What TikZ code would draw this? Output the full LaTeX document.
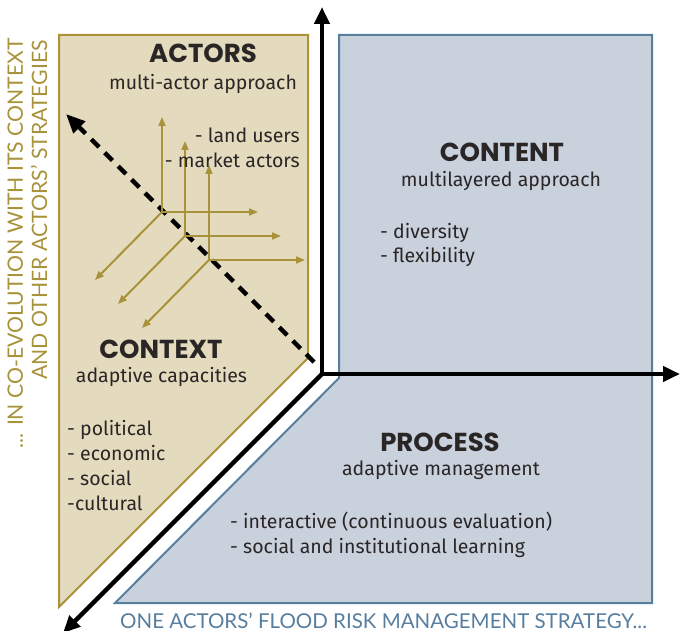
\documentclass[tikz,border=0pt]{standalone}
\usepackage{fontspec}
\setmainfont{Fira Sans}
\newfontfamily\capfont{Lato}
\newfontfamily\headfont{Poppins}
\usetikzlibrary{arrows.meta}
\definecolor{gold}{HTML}{A8923A}
\definecolor{beige}{HTML}{E4DBBE}
\definecolor{bluefill}{HTML}{C9D1DD}
\definecolor{blueedge}{HTML}{587E9F}
\definecolor{ink}{HTML}{2A2626}
\begin{document}
\begin{tikzpicture}[x=1pt,y=-1pt,
  head/.style={inner sep=0pt, anchor=base, text=ink, font=\headfont\fontsize{26}{30}\selectfont\bfseries},
  sub/.style={inner sep=0pt, anchor=base, text=ink, font=\fontsize{19.5}{23}\selectfont},
  item/.style={inner sep=0pt, anchor=base west, text=ink, font=\fontsize{19.5}{23}\selectfont},
  itemr/.style={inner sep=0pt, anchor=base east, text=ink, font=\fontsize{19.5}{23}\selectfont},
  side/.style={inner sep=0pt, text=gold, font=\capfont\fontsize{21.2}{24}\selectfont},
  axis/.style={line width=4.5pt, -{Triangle[length=17pt,width=15pt]}},
  vec/.style={gold, line width=2pt, -{Triangle[length=9pt,width=7pt]}}
]
\useasboundingbox (0,0) rectangle (680,631);
% panels
\draw[gold, line width=2pt, fill=beige] (59,35) -- (308,35) -- (308,358) -- (59,607) -- cycle;
\draw[blueedge, line width=2pt, fill=bluefill] (339,35) -- (652,35) -- (652,603) -- (115,603) -- (339,378) -- cycle;
% axes
\coordinate (O) at (322,374);
\coordinate (up) at (322,7);
\coordinate (right) at (680,374);
\coordinate (dl) at (63,633);
\draw[axis] (O) -- (up);
\draw[axis] (O) -- (right);
\draw[axis] (O) -- (dl);
% dashed diagonal
\coordinate (ds) at (314,362);
\coordinate (de) at (66,114);
\draw[line width=4.5pt, dash pattern=on 11pt off 8pt, -{Triangle[length=19pt,width=16pt]}] (ds) -- (de);
% gold vector triads
\foreach \i/\cx/\cy in {1/162/212, 2/185/236, 3/209/260}{
  \coordinate (c\i) at (\cx,\cy);
  \coordinate (u\i) at (\cx,\cy-95);
  \coordinate (r\i) at (\cx+96,\cy);
  \coordinate (l\i) at (\cx-67,\cy+68);
  \draw[vec] (c\i) -- (u\i);
  \draw[vec] (c\i) -- (r\i);
  \draw[vec] (c\i) -- (l\i);
}
% texts
\node[head] (actors) at (203,63) {ACTORS};
\node[sub] (actorsub) at (203,90) {multi-actor approach};
\node[itemr] (land) at (300,143) {- land users};
\node[itemr] (market) at (300,168) {- market actors};
\node[head] (content) at (502,162) {CONTENT};
\node[sub] (contentsub) at (501,187) {multilayered approach};
\node[item] (div) at (380,238) {- diversity};
\node[item] (flex) at (380,262) {- flexibility};
\node[head] (context) at (161,358) {CONTEXT};
\node[sub] (contextsub) at (161.5,382) {adaptive capacities};
\node[item] (pol) at (67,435) {- political};
\node[item] (eco) at (67,460) {- economic};
\node[item] (soc) at (67,485) {- social};
\node[item] (cul) at (67,510) {-cultural};
\node[head] (process) at (440,451) {PROCESS};
\node[sub] (processsub) at (441,475) {adaptive management};
\node[item] (inter) at (230,528) {- interactive (continuous evaluation)};
\node[item] (learn) at (230,553) {- social and institutional learning};
\node[side, text=blueedge, anchor=base west, font=\capfont\fontsize{20.5}{24}\selectfont] (strategy) at (120,628) {ONE ACTORS’ FLOOD RISK MANAGEMENT STRATEGY...};
\node[side, rotate=90, anchor=base east] (coevo) at (23,38) {... IN CO-EVOLUTION WITH ITS CONTEXT};
\node[side, rotate=90, anchor=base east] (others) at (47,40) {AND OTHER ACTORS’ STRATEGIES};
\end{tikzpicture}
\end{document}
